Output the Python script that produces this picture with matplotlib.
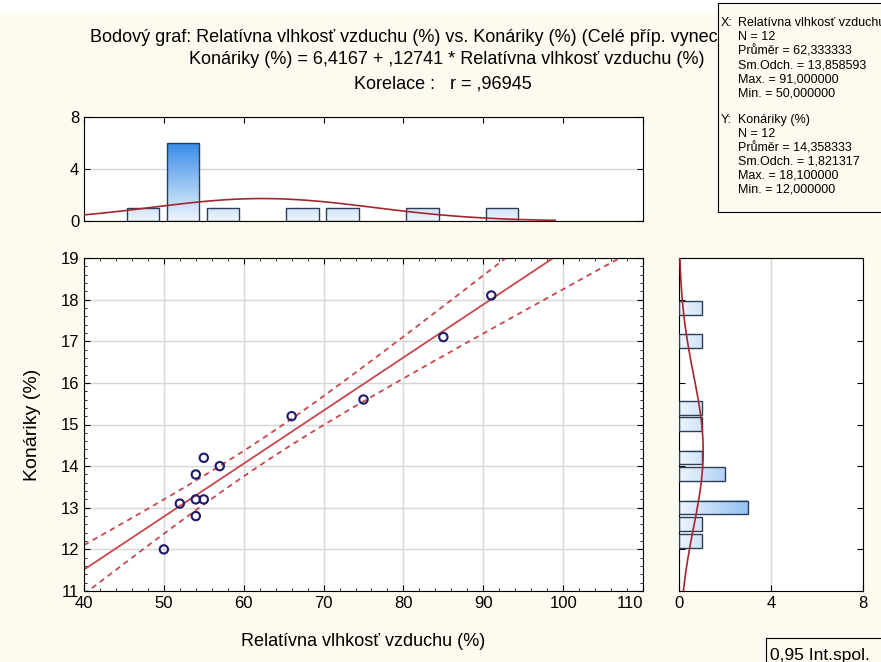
import numpy as np
import matplotlib
matplotlib.use('Agg')
import matplotlib.pyplot as plt
from matplotlib.colors import LinearSegmentedColormap
from matplotlib.patches import Rectangle
from matplotlib.ticker import MultipleLocator

plt.rcParams['font.family'] = ['Liberation Sans', 'DejaVu Sans']

# data
vlhkost = np.array([50, 52, 54, 54, 54, 55, 55, 57, 66, 75, 85, 91], dtype=float)
konariky = np.array([12.0, 13.1, 13.8, 13.2, 12.8, 14.2, 13.2, 14.0, 15.2, 15.6, 17.1, 18.1])

x_ticks = [40, 50, 60, 70, 80, 90, 100, 110]
y_ticks = [11, 12, 13, 14, 15, 16, 17, 18, 19]
hist_ticks = [0, 4, 8]
x_edges = np.arange(40, 111, 5)
y_edges = np.round(np.arange(11.6, 19.01, 0.4), 2)
t_crit = 2.228  # t(0.975, 10)

W, H = 881, 662
bg = '#fdfaf0'
red = '#c9474a'
curve = '#a3262e'
edge = '#2c3e55'
cmap = LinearSegmentedColormap.from_list('bl', ['#eef5fd', '#3a8ce8'])
tick_fs = 12

n = len(vlhkost)
slope, intercept = np.polyfit(vlhkost, konariky, 1)
r = np.corrcoef(vlhkost, konariky)[0, 1]
resid = konariky - (intercept + slope * vlhkost)
s = np.sqrt((resid ** 2).sum() / (n - 2))
sxx = ((vlhkost - vlhkost.mean()) ** 2).sum()


def px(l, t, w, h):
    return [l / W, 1 - (t + h) / H, w / W, h / H]


def czf(v, d):
    txt = f"{v:.{d}f}"
    if txt.startswith('0.'):
        txt = txt[1:]
    return txt.replace('.', ',')


fig = plt.figure(figsize=(W / 100, H / 100), dpi=100, facecolor=bg)
fig.patches.append(Rectangle((0, 1 - 12 / H), 1, 12 / H, transform=fig.transFigure,
                             color='white', zorder=0))

# main scatter
ax = fig.add_axes(px(84, 258, 559, 333))
ax.set_xlim(40, 110)
ax.set_ylim(11, 19)
ax.set_xticks(x_ticks)
ax.set_yticks(y_ticks)
ax.xaxis.set_minor_locator(MultipleLocator(2))
ax.yaxis.set_minor_locator(MultipleLocator(0.2))
ax.grid(True, color='#d6d6d6', lw=1)
ax.set_axisbelow(True)
ax.tick_params(which='both', direction='in', top=True, right=True, labelsize=tick_fs)
ax.tick_params(which='major', length=4)
ax.tick_params(which='minor', length=2)
ax.get_xticklabels()[-1].set_ha('right')

xs = np.linspace(40, 110, 200)
yfit = intercept + slope * xs
half = t_crit * s * np.sqrt(1 / n + (xs - vlhkost.mean()) ** 2 / sxx)
ax.plot(xs, yfit, color=red, lw=1.3)
ax.plot(xs, yfit + half, color=red, lw=1.3, ls=(0, (3, 2.5)))
ax.plot(xs, yfit - half, color=red, lw=1.3, ls=(0, (3, 2.5)))
ax.scatter(vlhkost, konariky, s=36, facecolors='none', edgecolors='#1c1a6a', linewidths=1.5, zorder=3)
ax.set_xlabel('Relatívna vlhkosť vzduchu (%)', fontsize=13, labelpad=16)
ax.set_ylabel('Konáriky (%)', fontsize=14, labelpad=14)
for sp in ax.spines.values():
    sp.set_color('black')

# top histogram
axt = fig.add_axes(px(84, 117, 559, 104))
idx = np.digitize(vlhkost, x_edges, right=True)
cnt = np.bincount(idx, minlength=len(x_edges) + 1)[1:len(x_edges)]
bw = x_edges[1] - x_edges[0]
for left, c in zip(x_edges[:-1], cnt):
    if c == 0:
        continue
    x0, x1 = left + 0.07 * bw, left + 0.88 * bw
    axt.imshow(np.linspace(0, c, 100).reshape(-1, 1), extent=[x0, x1, 0, c], origin='lower',
               cmap=cmap, vmin=0, vmax=6, aspect='auto', zorder=2)
    axt.add_patch(Rectangle((x0, 0), x1 - x0, c, fill=False, ec=edge, lw=1, zorder=3))
xc = np.linspace(40, 99, 60)
sdx = vlhkost.std(ddof=1)
dens = n * bw * np.exp(-0.5 * ((xc - vlhkost.mean()) / sdx) ** 2) / (sdx * np.sqrt(2 * np.pi))
axt.plot(xc, dens, color=curve, lw=1.2, zorder=4)
axt.set_xlim(40, 110)
axt.set_ylim(0, 8)
axt.set_yticks(hist_ticks)
axt.set_xticks(x_ticks)
axt.tick_params(axis='x', direction='in', top=True, bottom=False, labelbottom=False, length=4)
axt.tick_params(axis='y', direction='in', right=True, length=4, labelsize=tick_fs)
axt.grid(True, axis='y', color='#d6d6d6', lw=1)
axt.set_axisbelow(True)

# right histogram
axr = fig.add_axes(px(679, 258, 184, 333))
yv = np.clip(konariky, 12.01, 18.0)  # statistica puts the extremes into the inner bins
idy = np.digitize(yv, y_edges, right=True)
cnty = np.bincount(idy, minlength=len(y_edges) + 1)[1:len(y_edges)]
bh = y_edges[1] - y_edges[0]
for low, c in zip(y_edges[:-1], cnty):
    if c == 0:
        continue
    y0, y1 = low + 0.1 * bh, low + 0.93 * bh
    axr.imshow(np.linspace(0, c, 100).reshape(1, -1), extent=[0, c, y0, y1], origin='lower',
               cmap=cmap, vmin=0, vmax=6, aspect='auto', zorder=2)
    axr.add_patch(Rectangle((0, y0), c, y1 - y0, fill=False, ec=edge, lw=1, zorder=3))
yc = np.linspace(11, 19, 60)
sdy = konariky.std(ddof=1)
densy = n * bh * np.exp(-0.5 * ((yc - konariky.mean()) / sdy) ** 2) / (sdy * np.sqrt(2 * np.pi))
axr.plot(densy, yc, color=curve, lw=1.2, zorder=4)
axr.set_xlim(0, 8)
axr.set_ylim(11, 19)
axr.set_xticks(hist_ticks)
axr.set_yticks(y_ticks)
axr.tick_params(axis='y', direction='in', right=True, labelleft=False, length=4)
axr.tick_params(axis='x', direction='in', length=4, labelsize=tick_fs)
axr.grid(True, axis='x', color='#d6d6d6', lw=1)
axr.set_axisbelow(True)

# titles
fig.text(90 / W, 1 - 37 / H, 'Bodový graf: Relatívna vlhkosť vzduchu (%) vs. Konáriky (%) (Celé příp. vynech. ChD)',
         fontsize=13, ha='left', va='center')
fig.text(447 / W, 1 - 60 / H,
         f'Konáriky (%) = {czf(intercept, 4)} + {czf(slope, 5)} * Relatívna vlhkosť vzduchu (%)',
         fontsize=13, ha='center', va='center')
fig.text(443 / W, 1 - 84 / H, f'Korelace :   r = {czf(r, 5)}', fontsize=13, ha='center', va='center')

# stats box
box = fig.add_axes(px(718, 3, 170, 209), zorder=10)
box.set_facecolor(bg)
box.set_xlim(0, 170)
box.set_ylim(209, 0)
box.set_xticks([])
box.set_yticks([])
box.spines['right'].set_visible(False)
lines = [
    (20, 'X:', 'Relatívna vlhkosť vzduchu (%)'),
    (34, '', f'N = {n}'),
    (48, '', f'Průměr = {czf(vlhkost.mean(), 6)}'),
    (62, '', f'Sm.Odch. = {czf(sdx, 6)}'),
    (76, '', f'Max. = {czf(vlhkost.max(), 6)}'),
    (90, '', f'Min. = {czf(vlhkost.min(), 6)}'),
    (117, 'Y:', 'Konáriky (%)'),
    (131, '', f'N = {n}'),
    (145, '', f'Průměr = {czf(konariky.mean(), 6)}'),
    (159, '', f'Sm.Odch. = {czf(sdy, 6)}'),
    (173, '', f'Max. = {czf(konariky.max(), 6)}'),
    (187, '', f'Min. = {czf(konariky.min(), 6)}'),
]
for yy, lab, txt in lines:
    if lab:
        box.text(3, yy, lab, fontsize=9, va='center', clip_on=True)
    box.text(20, yy, txt, fontsize=9, va='center', clip_on=True)

# legend-like box at bottom right
lb = fig.add_axes(px(766, 638, 120, 30), zorder=10)
lb.set_facecolor(bg)
lb.set_xticks([])
lb.set_yticks([])
lb.text(4 / 120, 0.42, '0,95 Int.spol.', fontsize=12.5, va='center', transform=lb.transAxes)

fig.savefig('out.png', dpi=100, facecolor=bg)
